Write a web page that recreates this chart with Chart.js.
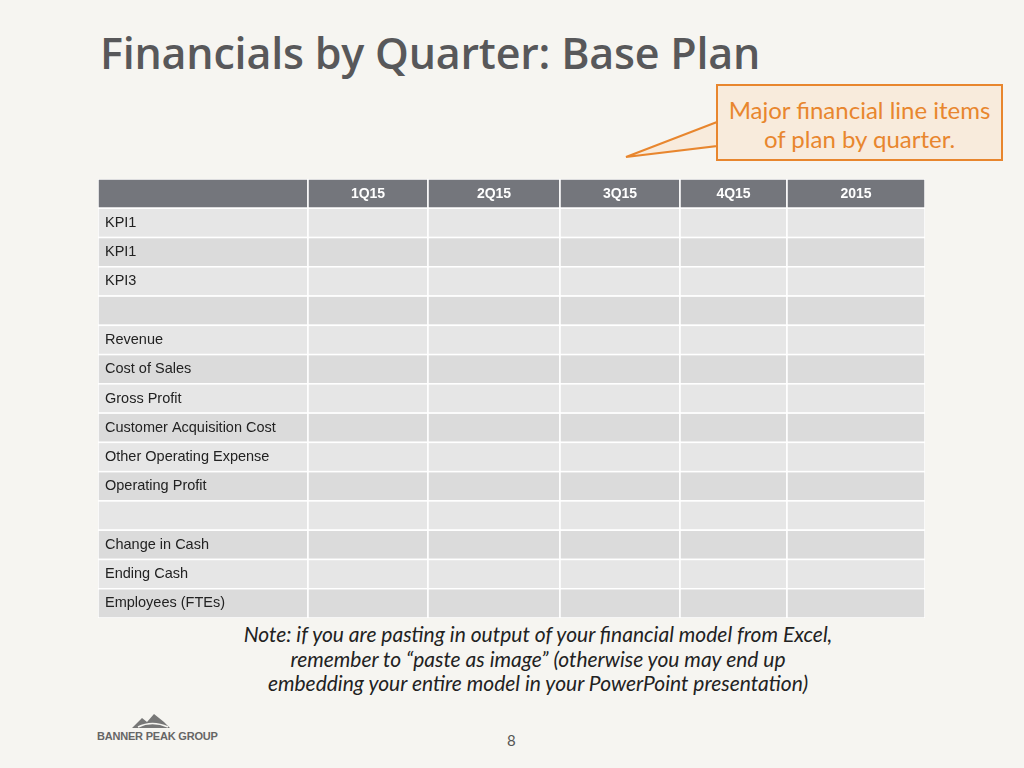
<!DOCTYPE html>
<html><head><meta charset="utf-8">
<script src="https://cdn.jsdelivr.net/npm/chart.js@4"></script>
<style>
body{margin:0;width:1024px;height:768px;background:#f6f5f1;position:relative;overflow:hidden;font-family:Lato,"Open Sans",sans-serif}
#title{position:absolute;left:100px;top:23px;font-family:"Open Sans",sans-serif;font-weight:600;font-size:43px;color:#58585a;letter-spacing:-0.2px}
#call{position:absolute;left:716px;top:84px;width:287px;height:77px;border:2px solid #e8862e;background:#f8ebdc;box-sizing:border-box;color:#e8862e;font-size:24px;text-align:center;line-height:29px;padding-top:9px}
#tail{position:absolute;left:0;top:0}
#wrap{position:absolute;left:98px;top:179px;width:827px;height:439px}
#note{position:absolute;left:180px;top:622px;width:716px;text-align:center;font-style:italic;font-size:21px;line-height:24.5px;color:#222}
#page{position:absolute;left:507px;top:731px;font-size:15px;color:#555}
#logo{position:absolute;left:97px;top:730px;font-family:"Liberation Sans Narrow","Liberation Sans",sans-serif;font-weight:bold;font-size:11px;color:#666;letter-spacing:-0.2px}
</style></head><body>
<div id="title">Financials by Quarter: Base Plan</div>
<svg id="tail" width="1024" height="200"><polygon points="717,122 626,157 717,146" fill="#f8ebdc" stroke="#e8862e" stroke-width="2"/></svg>
<div id="call">Major financial line items<br>of plan by quarter.</div>
<div id="wrap"><canvas id="c" width="827" height="439"></canvas></div>
<div id="note">Note: if you are pasting in output of your financial model from Excel,<br>remember to “paste as image” (otherwise you may end up<br>embedding your entire model in your PowerPoint presentation)</div>
<svg style="position:absolute;left:132px;top:712px" width="40" height="18"><path d="M0,16 L10,6 L15,10 L22,2 L32,10 L38,16 Z" fill="#777"/><path d="M6,15 Q20,8 36,15" stroke="#f6f5f1" stroke-width="1.5" fill="none"/></svg>
<div id="logo">BANNER PEAK GROUP</div>
<div id="page">8</div>
<script>
const columns=['','1Q15','2Q15','3Q15','4Q15','2015'];
const rows=['KPI1','KPI1','KPI3','','Revenue','Cost of Sales','Gross Profit','Customer Acquisition Cost','Other Operating Expense','Operating Profit','','Change in Cash','Ending Cash','Employees (FTEs)'];
const colWidths=[210,120,132,120,107,138];
const edges=[0];colWidths.forEach(w=>edges.push(edges[edges.length-1]+w));
const tablePlugin={id:'table',beforeDraw(chart){
  const ctx=chart.ctx,x=chart.scales.x,y=chart.scales.y;
  const n=rows.length+1;
  const rowH=Math.abs(y.getPixelForValue(1)-y.getPixelForValue(0));
  for(let r=0;r<n;r++){
    const cy=y.getPixelForValue(r)-rowH/2;
    for(let c=0;c<columns.length;c++){
      const x0=x.getPixelForValue(edges[c]),x1=x.getPixelForValue(edges[c+1]);
      ctx.fillStyle=r===0?'#74767c':(r%2===1?'#e6e6e6':'#dbdbdb');
      ctx.fillRect(x0,cy,x1-x0,rowH);
      ctx.strokeStyle='#ffffff';ctx.lineWidth=1.5;ctx.strokeRect(x0,cy,x1-x0,rowH);
      ctx.textBaseline='middle';
      if(r===0&&columns[c]){ctx.fillStyle='#fff';ctx.font='bold 14px "Liberation Sans",Arial';ctx.textAlign='center';ctx.fillText(columns[c],(x0+x1)/2,cy+rowH/2+1);}
      if(r>0&&c===0&&rows[r-1]){ctx.fillStyle='#222';ctx.font='14.5px "Liberation Sans",Arial';ctx.textAlign='left';ctx.fillText(rows[r-1],x0+7,cy+rowH/2);}
    }
  }
}};
new Chart(document.getElementById('c'),{type:'bar',
 data:{labels:['header',...rows.map((r,i)=>'r'+i)],datasets:[{data:[]}]},
 options:{responsive:false,animation:false,indexAxis:'y',layout:{padding:0},
  plugins:{legend:{display:false},tooltip:{enabled:false}},
  scales:{x:{type:'linear',min:0,max:edges[edges.length-1],display:false},
          y:{type:'category',offset:true,display:false}}},
 plugins:[tablePlugin]});
</script>
</body></html>
